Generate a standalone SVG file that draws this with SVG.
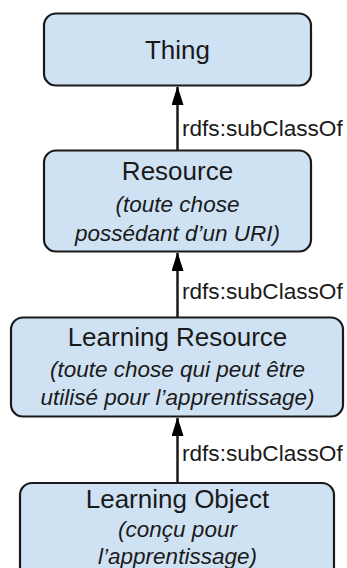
<svg xmlns="http://www.w3.org/2000/svg" width="347" height="568" viewBox="0 0 347 568">
<defs>
<style>
.box{fill:#cfe2f3;stroke:#1a1a1a;stroke-width:2.2}
.t{font-family:"Liberation Sans",Arial,sans-serif;font-size:26px;fill:#1a1a1a;text-anchor:middle}
.i{font-family:"Liberation Sans",Arial,sans-serif;font-size:22.5px;font-style:italic;fill:#1a1a1a;text-anchor:middle}
.l{font-family:"Liberation Sans",Arial,sans-serif;font-size:22.6px;fill:#1a1a1a}
.c{stroke:#1a1a1a;stroke-width:2.5;fill:none;marker-end:url(#ah)}
</style>
<marker id="ah" viewBox="0 0 19 12" refX="18" refY="6" markerWidth="19" markerHeight="12" markerUnits="userSpaceOnUse" orient="auto">
<path d="M0,0 L19,6 L0,12 z" fill="#000"/>
</marker>
</defs>
<g id="connectors">
<line class="c" x1="177.5" y1="150" x2="177.5" y2="87"/>
<line class="c" x1="177.5" y1="317" x2="177.5" y2="253"/>
<line class="c" x1="177.5" y1="482" x2="177.5" y2="418"/>
<text class="l" x="182" y="136">rdfs:subClassOf</text>
<text class="l" x="182" y="299">rdfs:subClassOf</text>
<text class="l" x="182" y="461">rdfs:subClassOf</text>
</g>
<g id="thing">
<rect class="box" x="44" y="13.5" width="267" height="72" rx="12"/>
<text class="t" x="177.5" y="59">Thing</text>
</g>
<g id="resource">
<rect class="box" x="44" y="150.5" width="267" height="101" rx="12"/>
<text class="t" x="177.5" y="180">Resource</text>
<text class="i" x="177.5" y="212">(toute chose</text>
<text class="i" x="177.5" y="241">possédant d’un URI)</text>
</g>
<g id="learning-resource">
<rect class="box" x="11" y="317.5" width="332" height="99" rx="12"/>
<text class="t" x="177.5" y="346">Learning Resource</text>
<text class="i" x="177.5" y="377">(toute chose qui peut être</text>
<text class="i" x="177.5" y="405">utilisé pour l’apprentissage)</text>
</g>
<g id="learning-object">
<rect class="box" x="20" y="483" width="314" height="110" rx="12"/>
<text class="t" x="177.5" y="508">Learning Object</text>
<text class="i" x="177.5" y="537">(conçu pour</text>
<text class="i" x="177.5" y="564">l’apprentissage)</text>
</g>
</svg>
